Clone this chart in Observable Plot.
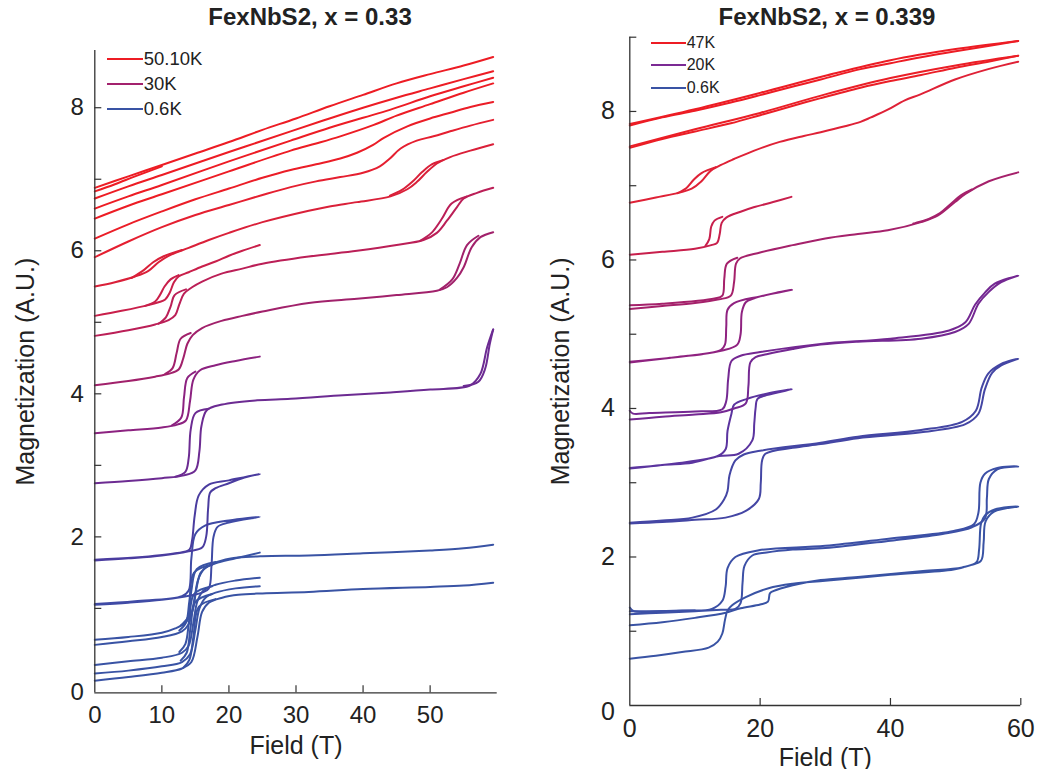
<!DOCTYPE html>
<html><head><meta charset="utf-8">
<script src="https://cdn.jsdelivr.net/npm/d3@7"></script>
<script src="https://cdn.jsdelivr.net/npm/@observablehq/plot@0.6"></script>
<style>
body{margin:0;background:#fff;font-family:"Liberation Sans",Arial,sans-serif;color:#222}
#wrap{position:relative;width:1038px;height:769px;overflow:hidden;background:#fff}
.panel{position:absolute;top:0}
.title{position:absolute;font-weight:bold;font-size:24px;transform:translateX(-50%);white-space:nowrap;line-height:1}
.leg{position:absolute}
.row{display:flex;align-items:center;white-space:nowrap}
.sw{display:inline-block;height:2px}
</style></head><body><div id="wrap"></div>
<script>
// ---------------- LEFT PANEL: FexNbS2, x = 0.33 ----------------
const leftTitle = "FexNbS2, x = 0.33";
const leftXTicks = [10, 20, 30, 40, 50];
const leftXLabels = [0, 10, 20, 30, 40, 50];
const leftYTicks = [1, 2, 3, 4, 5, 6, 7, 8];
const leftYLabels = [2, 4, 6, 8];
const leftLegend = ["50.10K", "30K", "0.6K"];

const lA = [[0,6.88],[5,7.04],[10,7.20],[15,7.36],[20,7.52],[25,7.69],[30,7.85],[35,8.02],[40,8.18],[45,8.34],[50,8.47],[55,8.59],[59.4,8.71]];
const lB = [[0,6.83],[3,6.93],[6,7.04],[10,7.18]];
const lC = [[0,6.73],[5,6.90],[10,7.06],[20,7.38],[29.2,7.67],[35,7.85],[40,8.00],[45,8.14],[50,8.27],[55,8.40],[59.4,8.51]];
const lD = [[0,6.59],[5,6.76],[10,6.92],[20,7.25],[29.2,7.54],[35,7.72],[40,7.86],[44,7.97],[50,8.16],[55,8.30],[59.4,8.42]];
const lE = [[0,6.45],[5,6.63],[10,6.79],[20,7.11],[29.2,7.40],[33,7.50],[36.6,7.60],[41.6,7.76],[45,7.89],[50,8.05],[55,8.21],[59.4,8.34]];
const lF = [[0,6.17],[5,6.37],[10,6.55],[15,6.72],[20,6.87],[25,7.02],[29.2,7.13],[33,7.21],[36.6,7.29],[39.1,7.37],[41.5,7.48],[43.1,7.58],[46.6,7.74],[50,7.85],[53,7.93],[56,8.01],[59.4,8.08]];
const lG = [[0,5.91],[5,6.13],[10,6.33],[15,6.50],[20,6.64],[25,6.78],[29.2,6.89],[33,6.97],[36.6,7.03],[40,7.09],[42.5,7.18],[44,7.29],[45.6,7.43],[48,7.54],[50.5,7.60],[53,7.67],[56,7.75],[59.4,7.83]];
const lH = [[0,5.50],[3,5.56],[6,5.64],[8,5.72],[9.5,5.84],[11,5.93],[14,6.04],[17,6.15],[20,6.25],[25,6.40],[31.9,6.56],[35,6.62],[39.1,6.68],[44.1,6.76],[46.6,6.86],[48,6.96],[49.5,7.10],[51,7.22],[53,7.31],[56,7.40],[59.4,7.49]];
const lHd1 = [[52,7.27],[50.3,7.21],[48.8,7.10],[47.3,6.96],[45.8,6.85],[44,6.77]];
const lHd2 = [[13,6.01],[10.2,5.92],[8.7,5.84],[7.3,5.73],[5.5,5.62]];
const lI = [[0,5.09],[4,5.16],[8,5.24],[9.5,5.28],[10.5,5.32],[11.2,5.42],[11.8,5.56],[12.5,5.64],[14,5.70],[16,5.78],[18,5.85],[20,5.93],[22,6.00],[24.6,6.08]];
const lId = [[12.5,5.66],[11.3,5.60],[10.4,5.50],[9.7,5.38],[9,5.29],[7.5,5.23]];
const lJ = [[0,4.81],[5,4.89],[9,4.97],[11,5.03],[12,5.10],[12.6,5.25],[13.3,5.40],[14.5,5.49],[16,5.57],[18.9,5.68],[22,5.75],[25,5.82],[31.9,5.92],[39.1,6.00],[45,6.08],[49,6.15],[51,6.25],[52.5,6.42],[54,6.61],[55,6.73],[57,6.81],[59.4,6.88]];
const lJd1 = [[55.5,6.76],[53.2,6.66],[51.7,6.44],[50.2,6.25],[48.5,6.14]];
const lJd2 = [[13.6,5.46],[11.9,5.38],[11.3,5.22],[10.6,5.07],[9.5,4.98]];
const lK = [[0,4.12],[5,4.18],[9,4.24],[11,4.28],[12.5,4.34],[13.2,4.50],[13.8,4.70],[14.6,4.82],[16,4.92],[18.9,5.02],[22,5.09],[25,5.15],[31.9,5.27],[39.1,5.33],[45,5.38],[51,5.44],[52.5,5.49],[54,5.62],[55,5.77],[56.2,6.05],[57.5,6.19],[59.4,6.26]];
const lKd1 = [[57.2,6.21],[55.5,6.08],[54.4,5.82],[53.3,5.60],[51.5,5.46]];
const lKd2 = [[14.3,4.85],[12.8,4.77],[12.2,4.57],[11.6,4.36],[10.5,4.28]];
const lL = [[0,3.45],[5,3.49],[10,3.53],[12.3,3.57],[13.6,3.63],[14.2,3.90],[14.7,4.20],[15.7,4.33],[18,4.40],[21,4.46],[24.6,4.52]];
const lLd = [[15,4.31],[13.8,4.22],[13.3,3.95],[12.9,3.67],[11.5,3.56]];
const lM = [[0,2.75],[5,2.78],[10,2.82],[13.3,2.86],[15,2.93],[15.6,3.20],[15.9,3.55],[16.7,3.77],[19,3.85],[24.2,3.91],[29.2,3.93],[37,3.98],[44.1,4.02],[50,4.06],[56,4.12],[57.5,4.28],[58.5,4.65],[59.4,4.90]];
const lMd1 = [[59.4,4.90],[58.9,4.70],[58.2,4.35],[57.2,4.17],[55,4.11]];
const lMd2 = [[17,3.79],[15,3.73],[14.3,3.50],[14,3.10],[13.5,2.91],[12,2.84]];
const lN = [[0,1.67],[5,1.70],[10,1.74],[14,1.80],[16,1.85],[16.6,2.00],[16.9,2.40],[17.2,2.62],[18,2.68],[20,2.75],[22,2.82],[24.6,2.88],[20,2.79],[17,2.73],[15.5,2.58],[14.9,2.30],[14.5,1.95],[14.1,1.82],[12,1.77],[6,1.71],[0,1.68]];
const lO = [[0,1.05],[5,1.08],[10,1.12],[13,1.16],[16,1.22],[17,1.28],[17.4,1.60],[17.7,2.00],[18.3,2.14],[20,2.20],[24.6,2.28],[20,2.23],[16.5,2.16],[15,2.04],[14.4,1.70],[14,1.25],[13,1.17],[6,1.10],[0,1.06]];
const lP = [[0,0.56],[5,0.60],[10,0.66],[12,0.72],[13.5,0.80],[14.5,0.95],[15.2,1.30],[15.8,1.50],[17,1.60],[19,1.67],[21.4,1.71],[25,1.73],[31.9,1.74],[40,1.77],[50,1.81],[55,1.84],[59.4,1.89]];
const lPd = [[18,1.65],[15.2,1.55],[14.4,1.25],[13.9,0.88],[12.8,0.76]];
const lQ = [[0,0.49],[5,0.54],[10,0.60],[13,0.68],[14,0.78],[14.8,1.10],[15.4,1.40],[16.3,1.55],[18,1.63],[21,1.70],[24.6,1.78]];
const lQd = [[17.5,1.61],[14.8,1.50],[14.1,1.10],[13.6,0.80],[12.6,0.69]];
const lR = [[0,0.21],[5,0.26],[10,0.31],[13,0.38],[14,0.48],[14.7,0.80],[15.3,1.10],[16.2,1.25],[18,1.33],[21,1.39],[24.6,1.43]];
const lRd = [[17.5,1.31],[14.8,1.20],[14.1,0.85],[13.5,0.50],[12.6,0.39]];
const lS = [[0,0.09],[5,0.13],[10,0.19],[13,0.25],[14.2,0.36],[15,0.70],[15.6,1.00],[16.5,1.15],[18,1.22],[21,1.28],[24.6,1.31]];
const lSd = [[17.5,1.20],[15,1.09],[14.3,0.75],[13.7,0.38],[12.8,0.27]];
const lT = [[0,-0.01],[5,0.04],[10,0.10],[13,0.16],[14.4,0.25],[15.3,0.60],[16,0.95],[17,1.08],[19,1.15],[21.4,1.19],[25,1.21],[31.9,1.23],[40,1.27],[50,1.30],[55,1.32],[59.4,1.36]];
const lTd = [[18,1.13],[15.5,1.02],[14.7,0.60],[14.1,0.28],[13.2,0.17]];

const leftCurves = [lT,lTd,lS,lSd,lR,lRd,lQ,lQd,lP,lPd,lO,lN,lM,lMd1,lMd2,lL,lLd,lK,lKd1,lKd2,lJ,lJd1,lJd2,lI,lId,lH,lHd1,lHd2,lG,lF,lE,lD,lC,lB,lA];
const leftColors = ["#3953a4","#3953a4","#3953a4","#3953a4","#3953a4","#3953a4","#3953a4","#3953a4","#3953a4","#3953a4","#3f4aa5","#4a3c9f","#6c2b92","#6c2b92","#6c2b92","#8c2280","#8c2280","#a1216b","#a1216b","#a1216b","#bb1f57","#bb1f57","#bb1f57","#c91f4a","#c91f4a","#da2039","#da2039","#da2039","#e51f30","#eb1d27","#ed1c24","#ed1c24","#ed1c24","#ed1c24","#ed1c24"];
const leftLegendColors = ["#ed1c24","#a3216d","#3953a4"];

// ---------------- RIGHT PANEL: FexNbS2, x = 0.339 ----------------
const rightTitle = "FexNbS2, x = 0.339";
const rightXTicks = [20, 40, 60];
const rightXLabels = [0, 20, 40, 60];
const rightYTicks = [1, 2, 3, 4, 5, 6, 7, 8, 9];
const rightYLabels = [2, 4, 6, 8];
const rightLegend = ["47K", "20K", "0.6K"];

const rA = [[0,7.81],[5,7.92],[10,8.01],[15.5,8.12],[20,8.22],[25.2,8.34],[29.3,8.43],[35.4,8.57],[40,8.65],[44.7,8.73],[50,8.81],[55,8.88],[59.6,8.95]];
const rAd = [[59.6,8.95],[50,8.84],[40,8.69],[30,8.48],[20,8.25],[10,8.03],[0,7.83]];
const rB = [[0,7.51],[5,7.63],[10,7.73],[15.5,7.84],[20,7.95],[25.2,8.08],[29.3,8.18],[35.4,8.32],[40,8.41],[44.7,8.49],[50,8.59],[55,8.67],[59.6,8.75]];
const rBd = [[59.6,8.75],[50,8.62],[40,8.45],[30,8.23],[20,7.98],[10,7.76],[0,7.53]];
const rC = [[0,6.77],[4,6.84],[7.8,6.91],[9.5,6.96],[11,7.06],[12.4,7.20],[14,7.28],[16,7.36],[19,7.47],[23,7.59],[26.7,7.67],[29.3,7.72],[33,7.80],[35.4,7.86],[37,7.92],[39.5,8.02],[42.2,8.15],[44.6,8.23],[49.9,8.43],[55,8.57],[59.6,8.67]];
const rCd = [[13.2,7.25],[11,7.17],[9.8,7.08],[8.7,6.97],[7.3,6.90]];
const rD = [[0,6.07],[5,6.11],[10,6.15],[12.5,6.20],[13.4,6.23],[13.8,6.35],[14.1,6.50],[14.8,6.57],[17,6.65],[19,6.71],[22,6.78],[24.8,6.85]];
const rDd = [[14.2,6.58],[13,6.53],[12.5,6.45],[12.2,6.28],[11.6,6.19]];
const rE = [[0,5.34],[5,5.38],[10,5.42],[13.7,5.47],[15.5,5.52],[16,5.70],[16.3,5.95],[16.9,6.02],[20,6.10],[25,6.20],[30,6.29],[35,6.35],[39.6,6.40],[44.7,6.51],[47.3,6.60],[49.9,6.78],[51.5,6.89],[55.1,7.06],[59.6,7.18]];
const rEd1 = [[52.5,6.95],[50.8,6.87],[49.2,6.75],[47.6,6.63],[45.8,6.55],[43.5,6.49]];
const rEd2 = [[16.5,6.03],[14.9,5.95],[14.5,5.75],[14.2,5.52],[13,5.48],[5,5.41],[0,5.39]];
const rF = [[0,4.62],[5,4.67],[10,4.72],[14.2,4.78],[16.5,4.86],[17,5.00],[17.2,5.30],[17.8,5.43],[19,5.48],[22,5.55],[24.9,5.60],[20,5.51],[16,5.42],[15,5.33],[14.8,5.10],[14.6,4.86],[14,4.79],[7,4.69],[0,4.63]];
const rG = [[0,3.85],[5,3.89],[10,3.92],[14,3.95],[16,4.00],[17.8,4.07],[18.2,4.30],[18.5,4.62],[19.3,4.69],[21,4.73],[25,4.80],[29.3,4.86],[35,4.90],[44.7,4.94],[49.9,5.03],[52,5.14],[53.5,5.41],[55.1,5.57],[57,5.70],[59.6,5.79],[56,5.68],[54.5,5.56],[53,5.40],[51.5,5.16],[49,5.05],[40,4.94],[29.3,4.87],[20,4.76],[17,4.71],[15.6,4.64],[15.1,4.40],[14.8,4.10],[14.2,3.99],[10,3.96],[3,3.94],[0.5,3.93],[0,3.97]];
const rH = [[0,3.19],[5,3.24],[9.6,3.27],[13.7,3.36],[16.7,3.39],[18.8,3.57],[19.1,3.80],[19.3,4.00],[19.6,4.13],[21,4.18],[24.9,4.26],[21,4.20],[18,4.13],[16,4.05],[15.6,3.93],[15,3.70],[14.7,3.45],[13.5,3.36],[7,3.26],[0,3.20]];
const rI = [[0,2.45],[5,2.47],[10,2.50],[14.7,2.53],[17.8,2.62],[19.8,2.78],[20.1,3.00],[20.3,3.30],[20.8,3.39],[25,3.47],[29.3,3.52],[35,3.60],[44.7,3.68],[51.5,3.79],[53.5,3.93],[54.5,4.26],[55.6,4.48],[57,4.58],[59.6,4.67],[57,4.60],[55,4.47],[54,4.28],[53.1,3.97],[51,3.82],[44.7,3.71],[35,3.62],[29.3,3.54],[20,3.43],[17.5,3.38],[16.2,3.30],[15.3,3.10],[15,2.89],[14.5,2.78],[13.2,2.64],[9.6,2.53],[5,2.49],[0,2.46]];
const rJ = [[0,1.23],[5,1.25],[10,1.27],[14,1.29],[16.2,1.30],[17,1.38],[17.3,1.65],[17.6,1.88],[18.8,2.02],[21,2.06],[25,2.10],[30,2.12],[40,2.22],[48,2.31],[52.5,2.40],[54.5,2.52],[54.8,2.80],[55.1,3.05],[56.4,3.18],[59.6,3.22],[56.4,3.20],[54.5,3.12],[53.8,3.00],[53.5,2.60],[52.8,2.44],[49.7,2.35],[40,2.25],[30,2.15],[19.8,2.09],[16.2,2.00],[15,1.85],[14.7,1.60],[14.2,1.41],[12.6,1.30],[8,1.28],[3,1.27],[0,1.27]];
const rJs = [[0,1.32],[0.6,1.27],[5,1.27],[10,1.28]];
const rK = [[0,0.63],[4,0.67],[8,0.72],[12.1,0.78],[13.5,0.86],[14.2,0.97],[14.6,1.15],[15,1.28],[15.7,1.35],[17.8,1.46],[21.3,1.58],[25,1.64],[30,1.68],[40,1.76],[49.7,1.83],[52.3,1.89],[53.9,1.95],[54.3,2.20],[54.6,2.48],[55.9,2.61],[59.6,2.68],[56,2.64],[54.5,2.56],[53.9,2.45],[53.6,2.10],[53.2,1.93],[51,1.86],[45,1.81],[35,1.73],[29.3,1.69],[25,1.62],[22,1.54],[21.5,1.51],[21.2,1.40],[20,1.36],[17,1.31],[14.7,1.25],[10,1.18],[5,1.12],[0,1.08]];

const rightCurves = [rK,rJ,rJs,rI,rH,rG,rF,rE,rEd1,rEd2,rD,rDd,rC,rCd,rB,rBd,rA,rAd];
const rightColors = ["#3953a4","#3c50a6","#3c50a6","#4446a4","#5b349f","#742892","#8f2280","#a5216b","#a5216b","#a5216b","#c81f4c","#c81f4c","#df2136","#df2136","#eb1e26","#eb1e26","#ed1c24","#ed1c24"];
const rightLegendColors = ["#ed1c24","#7b2a94","#3953a4"];

// ---------------- drawing ----------------
const FONT = '"Liberation Sans", Arial, sans-serif';
function toRows(curves, colors) {
  return curves.flatMap((pts, k) => pts.map(([f, m]) => ({f, m, k, c: colors[k]})));
}

function drawPanel(o) {
  const [y0, y1] = o.yDomain;
  const tx = o.tickLen / ((o.width - o.ml - o.mr) / 60);
  const ty = o.tickLen / ((o.height - o.mt - o.mb) / (y1 - y0));
  const chart = Plot.plot({
    width: o.width, height: o.height,
    marginLeft: o.ml, marginRight: o.mr, marginTop: o.mt, marginBottom: o.mb,
    x: {domain: [0, 60], axis: null},
    y: {domain: o.yDomain, axis: null},
    color: {type: "identity"},
    style: {fontFamily: FONT, background: "transparent", overflow: "visible", color: "#222"},
    marks: [
      Plot.line(toRows(o.curves, o.colors), {x: "f", y: "m", z: "k", stroke: "c", strokeWidth: 2, curve: "catmull-rom"}),
      Plot.ruleX([0], {y1: y0, y2: y1, stroke: "#333", strokeWidth: 1.3}),
      Plot.ruleY([y0], {x1: 0, x2: 60, stroke: "#333", strokeWidth: 1.3}),
      Plot.ruleY(o.yTicks, {x1: 0, x2: tx, stroke: "#333", strokeWidth: 1.2}),
      Plot.ruleX(o.xTicks, {y1: y0, y2: y0 + ty, stroke: "#333", strokeWidth: 1.2}),
      Plot.text(o.yLabels, {x: 0, y: d => d, dx: -o.yLabelGap, textAnchor: "end", fontSize: o.tickFont, fill: "#222"}),
      Plot.text([0], {x: 0, y: 0, dx: -o.yLabelGap, dy: o.zeroDy, textAnchor: "end", fontSize: o.tickFont, fill: "#222"}),
      Plot.text(o.xLabels, {x: d => d, y: y0, dy: o.xLabelGap, fontSize: o.tickFont, fill: "#222"}),
      Plot.text(["Field (T)"], {frameAnchor: "bottom", dy: o.xTitleGap, lineAnchor: "middle", textAnchor: "middle", fontSize: 25, fill: "#222"}),
      Plot.text(["Magnetization (A.U.)"], {frameAnchor: "left", rotate: -90, dx: -o.yTitleGap, textAnchor: "middle", lineAnchor: "middle", fontSize: 25, fill: "#222"})
    ]
  });
  chart.classList.add("panel");
  chart.style.left = o.left + "px";
  return chart;
}

function legend(labels, colors, o) {
  const d = document.createElement("div");
  d.className = "leg";
  d.style.left = o.left + "px"; d.style.top = o.top + "px";
  labels.forEach((t, i) => {
    const r = document.createElement("div");
    r.className = "row";
    r.style.height = o.row + "px";
    r.style.fontSize = o.font + "px";
    const s = document.createElement("span");
    s.className = "sw"; s.style.width = o.lineW + "px"; s.style.background = colors[i];
    s.style.marginRight = "1px";
    const tx = document.createElement("span"); tx.textContent = t;
    r.append(s, tx); d.append(r);
  });
  return d;
}

function title(text, cx, cy) {
  const d = document.createElement("div");
  d.className = "title"; d.textContent = text;
  d.style.left = cx + "px"; d.style.top = (cy - 12) + "px";
  return d;
}

const wrap = document.getElementById("wrap");
wrap.append(drawPanel({
  left: 0, width: 510, height: 769, ml: 94.3, mr: 13.3, mt: 50, mb: 76.7,
  yDomain: [-0.18, 8.8], curves: leftCurves, colors: leftColors,
  xTicks: leftXTicks, xLabels: leftXLabels, yTicks: leftYTicks, yLabels: leftYLabels,
  tickLen: 7, tickFont: 24, yLabelGap: 11, zeroDy: 12, xLabelGap: 23, xTitleGap: 53, yTitleGap: 69
}));
wrap.append(drawPanel({
  left: 520, width: 518, height: 769, ml: 109.3, mr: 17.7, mt: 36.7, mb: 64,
  yDomain: [0, 9], curves: rightCurves, colors: rightColors,
  xTicks: rightXTicks, xLabels: rightXLabels, yTicks: rightYTicks, yLabels: rightYLabels,
  tickLen: 7, tickFont: 25, yLabelGap: 15, zeroDy: 6, xLabelGap: 23, xTitleGap: 52, yTitleGap: 69
}));
wrap.append(title(leftTitle, 310, 17));
wrap.append(title(rightTitle, 827, 17));
wrap.append(legend(leftLegend, leftLegendColors, {left: 106.7, top: 46.5, row: 25, font: 18.5, lineW: 36}));
wrap.append(legend(rightLegend, rightLegendColors, {left: 650.7, top: 32.2, row: 22.2, font: 16, lineW: 35}));
</script></body></html>
